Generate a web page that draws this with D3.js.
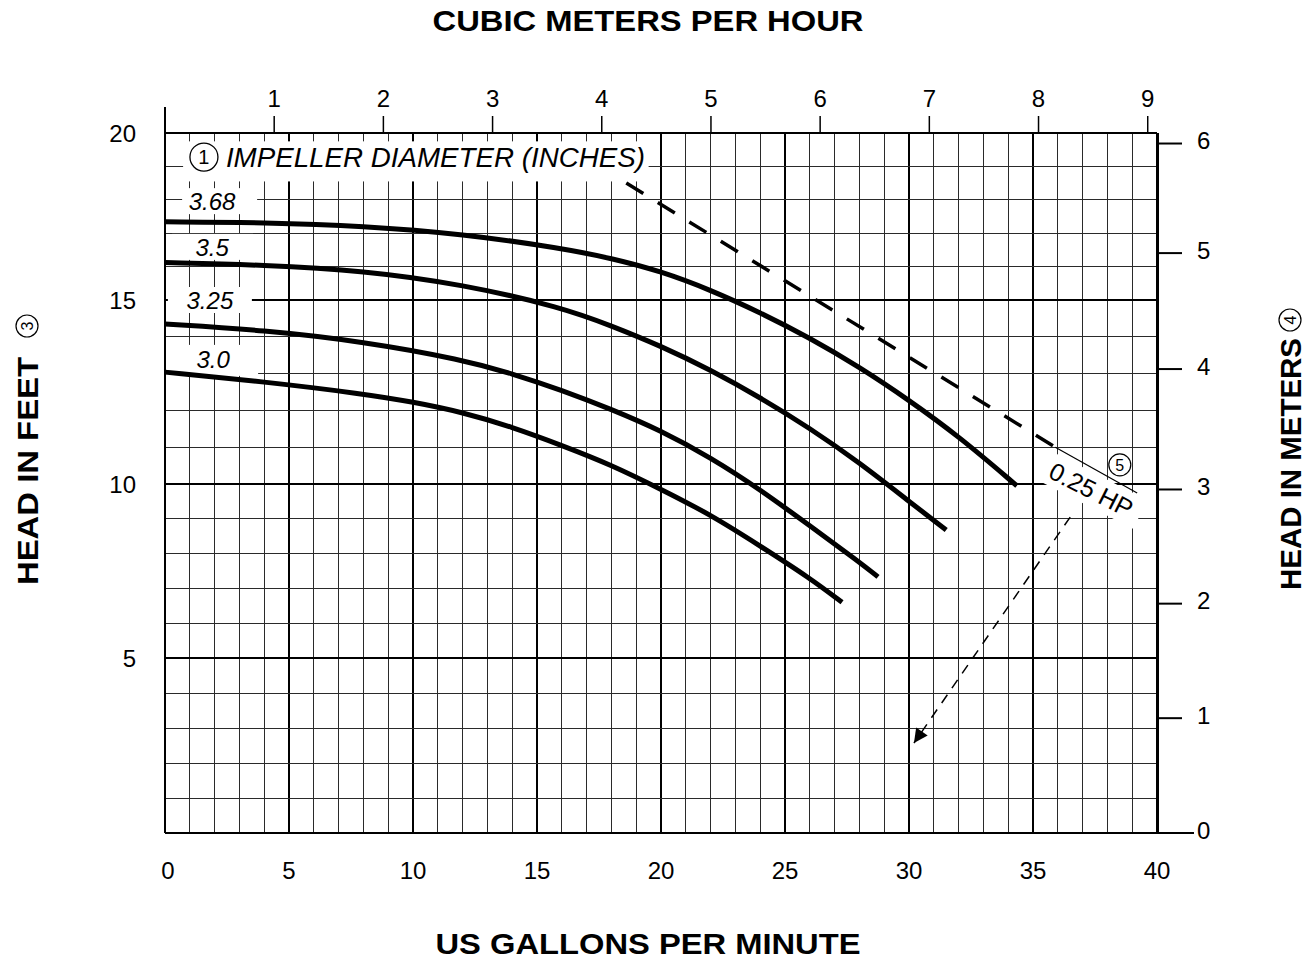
<!DOCTYPE html>
<html>
<head>
<meta charset="utf-8">
<script src="https://cdn.jsdelivr.net/npm/d3@7"></script>
<style>
  body { margin: 0; background: #fff; }
  svg { display: block; font-family: 'Liberation Sans', Arial, Helvetica, sans-serif; }
</style>
</head>
<body>
<div id="pump-curve"></div>
<script>
const width = 1312
const height = 959

// axis ticks
const gpmTicks = [0, 5, 10, 15, 20, 25, 30, 35, 40]
const m3hTicks = [1, 2, 3, 4, 5, 6, 7, 8, 9]
const feetTicks = [5, 10, 15, 20]
const meterTicks = [0, 1, 2, 3, 4, 5, 6]

// impeller curves: flow (US gpm) and head (ft)
const diameters = ['3.68', '3.5', '3.25', '3.0']
const gpm368 = [0, 4, 8, 12, 16, 18, 20, 22, 24, 26, 28, 30, 32, 34.35]
const ft368 = [17.34, 17.32, 17.22, 16.98, 16.55, 16.25, 15.86, 15.3, 14.66, 13.97, 13.18, 12.28, 11.3, 9.95]
const gpm350 = [0, 4, 8, 12, 16, 18, 20, 22, 24, 26, 28, 30, 31.5]
const ft350 = [16.12, 16.05, 15.88, 15.47, 14.8, 14.3, 13.75, 13.1, 12.35, 11.52, 10.58, 9.5, 8.68]
const gpm325 = [0, 4, 8, 12, 14, 16, 18, 20, 22, 24, 26, 28, 28.75]
const ft325 = [14.35, 14.18, 13.87, 13.38, 13.0, 12.55, 12.03, 11.45, 10.72, 9.84, 8.8, 7.76, 7.33]
const gpm300 = [0, 4, 8, 10, 12, 14, 16, 18, 20, 22, 24, 26, 27.3]
const ft300 = [13.04, 12.78, 12.45, 12.23, 11.95, 11.55, 11.05, 10.52, 9.85, 9.12, 8.22, 7.3, 6.6]

// 0.25 HP limit line and its pointer
const hpLimitGpm = [18.6, 35.9]
const hpLimitFt = [18.5, 11.0]
const hpTailGpm = [35.9, 39.2]
const hpTailFt = [11.0, 9.74]
const hpArrowGpm = [36.5, 30.2]
const hpArrowFt = [9.05, 2.57]

const GPM_PER_M3H = 4.402868
const FT_PER_M = 3.28084

const svg = d3
  .select('#pump-curve')
  .append('svg')
  .attr('width', width)
  .attr('height', height)
  .attr('viewBox', [0, 0, width, height])

const x = d3.scaleLinear().domain([0, 40]).range([165, 1157])
// the printed grid is slightly uneven, so the head scale is piecewise
const y = d3.scaleLinear().domain([0, 5, 10, 15, 20]).range([833, 658, 484, 300, 133])

const plotLeft = x(0), plotRight = x(40), plotTop = y(20), plotBottom = y(0)

//////////////////////////////// GRID ////////////////////////////////
const grid = svg.append('g').attr('shape-rendering', 'crispEdges')

grid.selectAll('.vline')
  .data(d3.range(1, 40))
  .join('line')
  .attr('class', 'vline')
  .attr('x1', d => x(d)).attr('x2', d => x(d))
  .attr('y1', plotTop).attr('y2', plotBottom)
  .attr('stroke', d => d % 5 === 0 ? '#000' : '#2a2a2a')
  .attr('stroke-width', d => d % 5 === 0 ? 2 : 1)

grid.selectAll('.hline')
  .data(d3.range(1, 20))
  .join('line')
  .attr('class', 'hline')
  .attr('x1', plotLeft).attr('x2', plotRight)
  .attr('y1', d => y(d)).attr('y2', d => y(d))
  .attr('stroke', d => d % 5 === 0 ? '#000' : '#2a2a2a')
  .attr('stroke-width', d => d % 5 === 0 ? 2 : 1)

// frame
const frame = svg.append('g').attr('stroke', '#000').attr('shape-rendering', 'crispEdges')
frame.append('line').attr('x1', plotLeft).attr('x2', plotLeft).attr('y1', plotTop - 26).attr('y2', plotBottom).attr('stroke-width', 2)
frame.append('line').attr('x1', plotLeft).attr('x2', plotRight).attr('y1', plotTop).attr('y2', plotTop).attr('stroke-width', 2)
frame.append('line').attr('x1', plotLeft).attr('x2', plotRight).attr('y1', plotBottom).attr('y2', plotBottom).attr('stroke-width', 2)
frame.append('line').attr('x1', plotRight).attr('x2', plotRight).attr('y1', plotTop).attr('y2', plotBottom).attr('stroke-width', 3)

//////////////////////////////// LABEL BOXES ////////////////////////////////
// white patches the printed labels sit on
const boxes = svg.append('g').attr('fill', '#fff')
boxes.append('rect')
  .attr('x', x(0.73)).attr('y', y(19.75))
  .attr('width', x(19.5) - x(0.73)).attr('height', y(18.55) - y(19.75))

const labelAt = [
  { gpm: 1.9, ft: 17.96, x0: -30, x1: 45, y0: -13, y1: 13 },
  { gpm: 1.9, ft: 16.59, x0: -40, x1: 41, y0: -13, y1: 13 },
  { gpm: 1.81, ft: 15.0, x0: -42, x1: 42, y0: -13, y1: 13 },
  { gpm: 1.94, ft: 13.4, x0: -47, x1: 45, y0: -14, y1: 17 }
]

boxes.selectAll('.dia-box')
  .data(labelAt)
  .join('rect')
  .attr('class', 'dia-box')
  .attr('x', d => x(d.gpm) + d.x0)
  .attr('y', d => y(d.ft) + d.y0)
  .attr('width', d => d.x1 - d.x0)
  .attr('height', d => d.y1 - d.y0)

//////////////////////////////// CURVES ////////////////////////////////
const line = d3.line()
  .x(d => x(d[0]))
  .y(d => y(d[1]))
  .curve(d3.curveBasis)

const curves = [
  d3.zip(gpm368, ft368),
  d3.zip(gpm350, ft350),
  d3.zip(gpm325, ft325),
  d3.zip(gpm300, ft300)
]

svg.append('g')
  .selectAll('path')
  .data(curves)
  .join('path')
  .attr('d', line)
  .attr('fill', 'none')
  .attr('stroke', '#000')
  .attr('stroke-width', 5)

svg.append('g')
  .selectAll('text')
  .data(diameters)
  .join('text')
  .attr('x', (d, i) => x(labelAt[i].gpm))
  .attr('y', (d, i) => y(labelAt[i].ft))
  .attr('dy', '0.36em')
  .attr('text-anchor', 'middle')
  .attr('font-style', 'italic')
  .attr('font-size', 24)
  .text(d => d)

// impeller title
const title1 = svg.append('g')
title1.append('circle')
  .attr('cx', x(1.57)).attr('cy', y(19.28)).attr('r', 14)
  .attr('fill', 'none').attr('stroke', '#000').attr('stroke-width', 1.3)
title1.append('text')
  .attr('x', x(1.57)).attr('y', y(19.28)).attr('dy', '0.36em')
  .attr('text-anchor', 'middle').attr('font-size', 20)
  .text('1')
title1.append('text')
  .attr('x', x(1.57) + 22).attr('y', y(19.28)).attr('dy', '0.36em')
  .attr('font-style', 'italic').attr('font-size', 27)
  .attr('textLength', 419).attr('lengthAdjust', 'spacingAndGlyphs')
  .text('IMPELLER DIAMETER (INCHES)')

//////////////////////////////// HP LINE ////////////////////////////////
const straight = d3.line().x(d => x(d[0])).y(d => y(d[1]))

svg.append('path')
  .attr('d', straight(d3.zip(hpLimitGpm, hpLimitFt)))
  .attr('fill', 'none').attr('stroke', '#000')
  .attr('stroke-width', 3.5).attr('stroke-dasharray', '20 17')

svg.append('path')
  .attr('d', straight(d3.zip(hpTailGpm, hpTailFt)))
  .attr('fill', 'none').attr('stroke', '#000').attr('stroke-width', 1.2)

svg.append('defs').append('marker')
  .attr('id', 'arrow')
  .attr('viewBox', '0 0 10 10')
  .attr('refX', 10).attr('refY', 5)
  .attr('markerUnits', 'userSpaceOnUse')
  .attr('markerWidth', 16).attr('markerHeight', 14)
  .attr('orient', 'auto')
  .append('path')
  .attr('d', 'M0,0L10,5L0,10Z')
  .attr('fill', '#000')

svg.append('path')
  .attr('d', straight(d3.zip(hpArrowGpm, hpArrowFt)))
  .attr('fill', 'none').attr('stroke', '#000')
  .attr('stroke-width', 1.5).attr('stroke-dasharray', '10 8')
  .attr('marker-end', 'url(#arrow)')

const hp = svg.append('g')
  .attr('transform', `translate(${x(37.35)},${y(9.84)}) rotate(27)`)
hp.append('rect')
  .attr('x', -55).attr('y', -16).attr('width', 110).attr('height', 32)
  .attr('fill', '#fff')
hp.append('text')
  .attr('text-anchor', 'middle').attr('dy', '0.36em')
  .attr('font-size', 25)
  .text('0.25 HP')

const five = svg.append('g').attr('transform', `translate(${x(38.5)},${y(10.52)})`)
five.append('circle').attr('r', 11).attr('fill', '#fff').attr('stroke', '#000').attr('stroke-width', 1.2)
five.append('text').attr('text-anchor', 'middle').attr('dy', '0.36em').attr('font-size', 16).text('5')

//////////////////////////////// AXES ////////////////////////////////
const txt = svg.append('g').attr('font-size', 24).attr('fill', '#000')

// bottom, US gpm
txt.selectAll('.gpm')
  .data(gpmTicks)
  .join('text')
  .attr('class', 'gpm')
  .attr('x', d => x(d) + (d === 0 ? 3 : 0))
  .attr('y', plotBottom + 46)
  .attr('text-anchor', 'middle')
  .text(d => d)

// left, feet
txt.selectAll('.ft')
  .data(feetTicks)
  .join('text')
  .attr('class', 'ft')
  .attr('x', 136)
  .attr('y', d => y(d))
  .attr('dy', '0.36em')
  .attr('text-anchor', 'end')
  .text(d => d)

// top, cubic meters per hour
svg.append('g')
  .selectAll('line')
  .data(m3hTicks)
  .join('line')
  .attr('x1', d => x(d * GPM_PER_M3H)).attr('x2', d => x(d * GPM_PER_M3H))
  .attr('y1', plotTop - 17).attr('y2', plotTop)
  .attr('stroke', '#000').attr('stroke-width', 1.5)

txt.selectAll('.m3h')
  .data(m3hTicks)
  .join('text')
  .attr('class', 'm3h')
  .attr('x', d => x(d * GPM_PER_M3H))
  .attr('y', plotTop - 26)
  .attr('text-anchor', 'middle')
  .text(d => d)

// right, meters
svg.append('g')
  .selectAll('line')
  .data(meterTicks)
  .join('line')
  .attr('x1', plotRight).attr('x2', d => plotRight + (d === 0 ? 37 : 25))
  .attr('y1', d => y(d * FT_PER_M)).attr('y2', d => y(d * FT_PER_M))
  .attr('stroke', '#000').attr('stroke-width', 2)

txt.selectAll('.m')
  .data(meterTicks)
  .join('text')
  .attr('class', 'm')
  .attr('x', 1197)
  .attr('y', d => y(d * FT_PER_M) - 3)
  .attr('dy', '0.36em')
  .text(d => d)

//////////////////////////////// TITLES ////////////////////////////////
svg.append('text')
  .attr('x', 648).attr('y', 31)
  .attr('text-anchor', 'middle')
  .attr('font-weight', 'bold').attr('font-size', 30)
  .attr('textLength', 431).attr('lengthAdjust', 'spacingAndGlyphs')
  .text('CUBIC METERS PER HOUR')

svg.append('text')
  .attr('x', 648).attr('y', 954)
  .attr('text-anchor', 'middle')
  .attr('font-weight', 'bold').attr('font-size', 30)
  .attr('textLength', 425).attr('lengthAdjust', 'spacingAndGlyphs')
  .text('US GALLONS PER MINUTE')

function sideTitle(cx, yStart, len, label, num, numY) {
  const g = svg.append('g')
  g.append('text')
    .attr('transform', `translate(${cx + 11},${yStart}) rotate(-90)`)
    .attr('font-weight', 'bold').attr('font-size', 30)
    .attr('textLength', len).attr('lengthAdjust', 'spacingAndGlyphs')
    .text(label)
  g.append('circle')
    .attr('cx', cx).attr('cy', numY).attr('r', 11)
    .attr('fill', 'none').attr('stroke', '#000').attr('stroke-width', 1.2)
  g.append('text')
    .attr('transform', `translate(${cx},${numY}) rotate(-90)`)
    .attr('text-anchor', 'middle').attr('dy', '0.36em')
    .attr('font-size', 16)
    .text(num)
}

sideTitle(27, 585, 228, 'HEAD IN FEET', '3', 326)
sideTitle(1290, 590, 252, 'HEAD IN METERS', '4', 320)
</script>
</body>
</html>
